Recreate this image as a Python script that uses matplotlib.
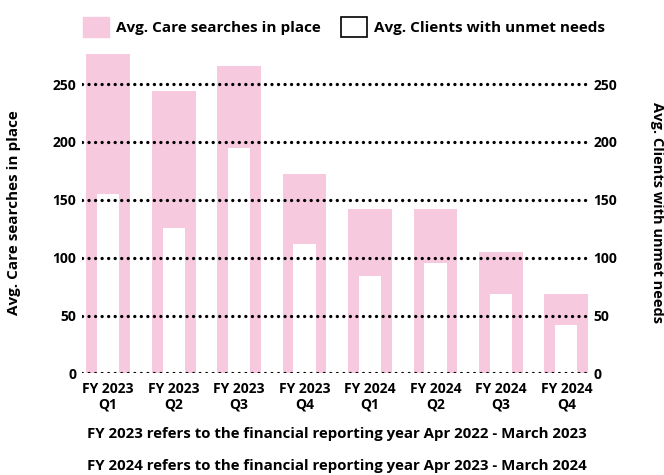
import numpy as np
import matplotlib.pyplot as plt
from matplotlib.patches import Patch

# data
quarters = ['FY 2023\nQ1', 'FY 2023\nQ2', 'FY 2023\nQ3', 'FY 2023\nQ4',
            'FY 2024\nQ1', 'FY 2024\nQ2', 'FY 2024\nQ3', 'FY 2024\nQ4']
care_searches = [276, 244, 266, 172, 142, 142, 105, 69]
unmet_needs = [155, 126, 195, 112, 84, 95, 69, 42]
yticks = [0, 50, 100, 150, 200, 250]

pink = '#f7c9df'
plt.rcParams['font.family'] = ['Open Sans', 'DejaVu Sans']
plt.rcParams['font.weight'] = 'bold'

fig = plt.figure(figsize=(6.64, 4.75), dpi=100)
ax = fig.add_axes([0.1235, 0.214, 0.762, 0.682])

x = np.arange(len(quarters))
ax.bar(x, care_searches, width=0.67, color=pink, zorder=1)
ax.bar(x, unmet_needs, width=0.34, color='white', zorder=2)

# dotted grid lines on top of the bars
for y in yticks:
    ax.axhline(y, color='black', linewidth=2.4, linestyle=(0, (0.01, 1.95)),
               dash_capstyle='round', zorder=3)

ax.set_xlim(-0.4, 7.33)
ax.set_ylim(0, 280)
ax.set_yticks(yticks)
ax.set_xticks(x)
ax.set_xticklabels(quarters, fontsize=10, fontweight='bold', linespacing=1.2)
ax.tick_params(length=0, labelsize=10, pad=4)
ax.tick_params(axis='x', pad=6)
ax.tick_params(axis='y', labelright=True, labelleft=True)
for lab in ax.get_yticklabels():
    lab.set_fontweight('bold')
for s in ax.spines.values():
    s.set_visible(False)

fig.text(0.021, 0.552, 'Avg. Care searches in place', rotation=90,
         ha='center', va='center', fontsize=11, fontweight='bold')
fig.text(0.989, 0.553, 'Avg. Clients with unmet needs', rotation=-90,
         ha='center', va='center', fontsize=10.5, fontweight='bold')

handles = [Patch(facecolor=pink, edgecolor=pink),
           Patch(facecolor='white', edgecolor='black', linewidth=1.2)]
fig.legend(handles, ['Avg. Care searches in place', 'Avg. Clients with unmet needs'],
           loc='center', bbox_to_anchor=(0.518, 0.943), ncol=2, frameon=False,
           handlelength=1.7, handleheight=1.7, columnspacing=1.3,
           handletextpad=0.45, prop={'weight': 'bold', 'size': 11})

fig.text(0.507, 0.087, 'FY 2023 refers to the financial reporting year Apr 2022 - March 2023',
         ha='center', va='center', fontsize=10.8, fontweight='bold')
fig.text(0.507, 0.018, 'FY 2024 refers to the financial reporting year Apr 2023 - March 2024',
         ha='center', va='center', fontsize=10.8, fontweight='bold')

fig.savefig('out.png', dpi=100)
plt.close(fig)
